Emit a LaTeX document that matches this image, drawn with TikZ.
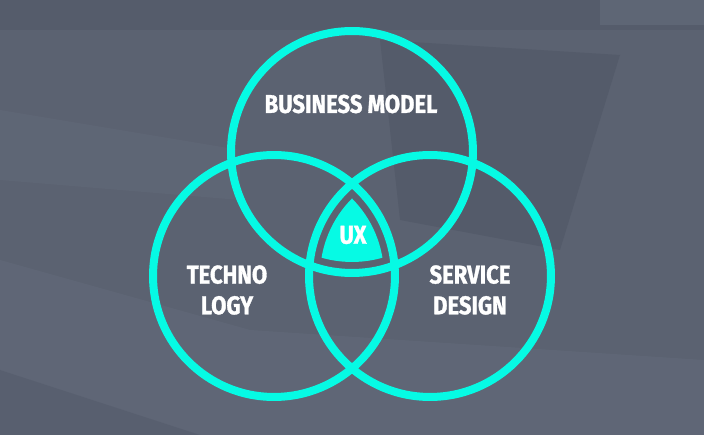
\documentclass[tikz,border=0pt]{standalone}
\usepackage{fontspec}
\newfontfamily\vennfont{Fira Sans}[FakeStretch=0.86, FakeBold=1.2]
\definecolor{turquesa}{HTML}{06FAE4}
\definecolor{fondo}{HTML}{5B6271}
\definecolor{sombra}{HTML}{4A5161}
\definecolor{claro}{HTML}{687080}
\tikzset{
  anillo/.style={draw=turquesa, line width=0.16cm},
  etiqueta/.style={text=white, font=\vennfont\bfseries\fontsize{14.6}{16.5}\selectfont, align=center}
}
\begin{document}
\begin{tikzpicture}[x=0.02cm, y=-0.02cm]
% Fondo
\fill [fondo] (0,0) rectangle (704,435);
\fill [claro, opacity=0.35] (0,330) -- (0,260) -- (250,330) -- (704,360) -- (704,435) -- (0,435) -- cycle;
\fill [sombra, opacity=0.4] (380,40) -- (620,55) -- (560,250) -- (400,220) -- cycle;
\fill [sombra, opacity=0.35] (0,0) rectangle (704,30);
\fill [claro, opacity=0.5] (600,0) rectangle (704,25);
\fill [claro, opacity=0.3] (0,110) -- (240,150) -- (240,200) -- (0,180) -- cycle;
\fill [sombra, opacity=0.3] (0,370) -- (200,435) -- (0,435) -- cycle;

% Interseccion (UX)
\begin{scope}
    \clip (352,152) circle (2.2cm);
    \clip (274,276) circle (2.2cm);
    \fill [turquesa] (430,276) circle (2.2cm);
\end{scope}

% Contornos
\draw [anillo] (352,152) circle (2.42cm);
\draw [anillo] (274,276) circle (2.42cm);
\draw [anillo] (430,276) circle (2.42cm);

% Etiquetas
\node [etiqueta] (negocio) at (351,104) {BUSINESS MODEL};
\node [etiqueta] (tecno) at (227,290) {TECHNO\\[1pt]LOGY};
\node [etiqueta] (servicio) at (470,290) {SERVICE\\[1pt]DESIGN};
\node [etiqueta] (ux) at (353,235) {UX};
\end{tikzpicture}
\end{document}
